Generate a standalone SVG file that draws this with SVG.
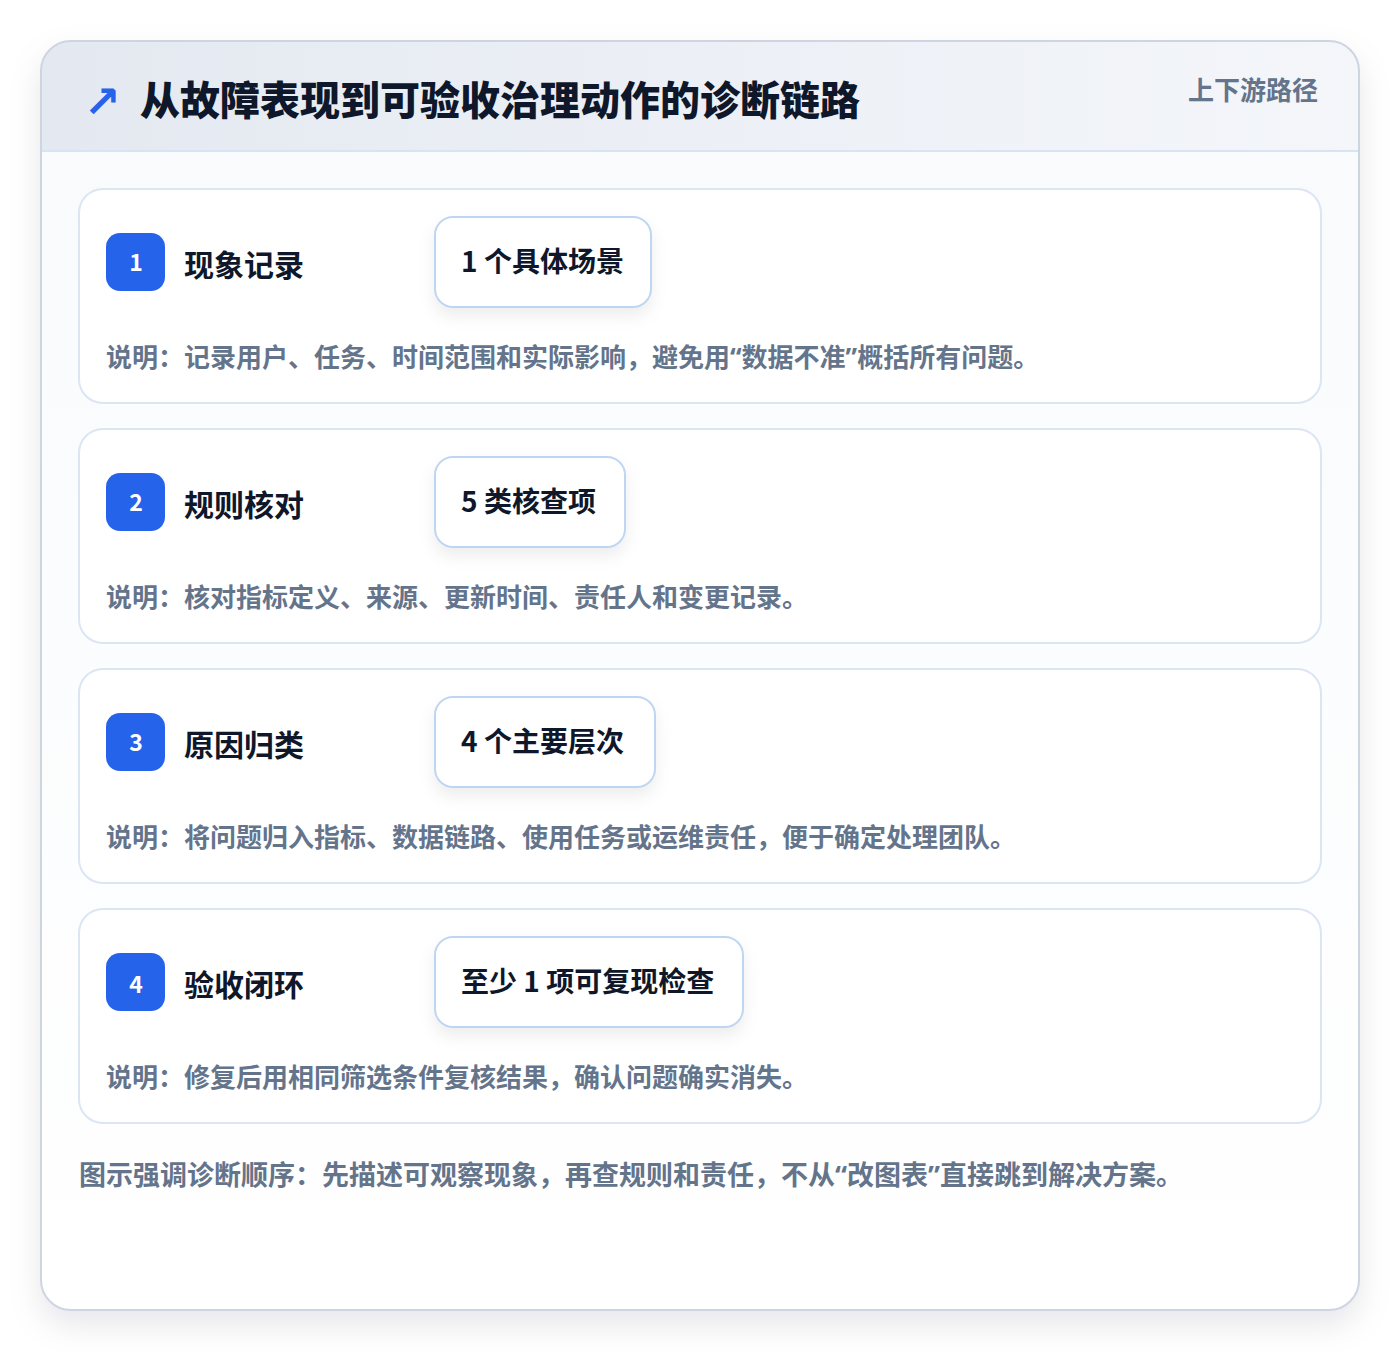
<svg xmlns="http://www.w3.org/2000/svg" width="1400" height="1352" viewBox="0 0 1400 1352">
<defs>
<linearGradient id="hdr" x1="0" y1="0" x2="1" y2="0">
<stop offset="0" stop-color="#e4e9f1"/>
<stop offset="1" stop-color="#f4f6fa"/>
</linearGradient>
<linearGradient id="body" x1="0" y1="0" x2="0" y2="1">
<stop offset="0" stop-color="#f8fafc"/>
<stop offset="1" stop-color="#ffffff"/>
</linearGradient>
<filter id="outerShadow" x="-10%" y="-10%" width="120%" height="120%">
<feDropShadow dx="0" dy="14" stdDeviation="16" flood-color="#0f172a" flood-opacity="0.10"/>
</filter>
<filter id="pillShadow" x="-20%" y="-30%" width="140%" height="180%">
<feDropShadow dx="0" dy="8" stdDeviation="8" flood-color="#0f172a" flood-opacity="0.07"/>
</filter>
<clipPath id="cardClip"><rect x="41" y="41" width="1318" height="1269" rx="30"/></clipPath>
</defs>
<style>
text{font-family:"Noto Sans CJK SC","Noto Sans",sans-serif;font-weight:700}
.q{font-family:"Noto Sans",sans-serif}
.step{fill:#ffffff;stroke:#dbe6f4;stroke-width:2}
.badge{fill:#2563eb}
.num{fill:#ffffff;font-size:23px;text-anchor:middle}
.stitle{fill:#0f172a;font-size:30px}
.pill{fill:#ffffff;stroke:#bfd6f2;stroke-width:2}
.ptext{fill:#0f172a;font-size:28px}
.desc{fill:#64748b;font-size:26px}
.foot{fill:#64748b;font-size:27px}
</style>
<rect width="1400" height="1352" fill="#ffffff"/>
<g id="card">
<rect x="41" y="41" width="1318" height="1269" rx="30" fill="#ffffff" filter="url(#outerShadow)"/>
<g clip-path="url(#cardClip)">
<rect x="41" y="41" width="1318" height="1269" fill="url(#body)"/>
<rect x="41" y="41" width="1318" height="110" fill="url(#hdr)"/>
<line x1="41" y1="151" x2="1359" y2="151" stroke="#d8e4f3" stroke-width="2"/>
</g>
<rect x="41" y="41" width="1318" height="1269" rx="30" fill="none" stroke="#cdd5e1" stroke-width="2"/>
</g>
<g id="header">
<text x="84" y="117" style="font-family:'DejaVu Sans',sans-serif;font-weight:700" font-size="44" fill="#2563eb">↗</text>
<text x="140" y="115" font-size="40" fill="#0f172a" style="font-weight:800">从故障表现到可验收治理动作的诊断链路</text>
<text x="1318" y="100" font-size="26" fill="#64748b" text-anchor="end">上下游路径</text>
</g>
<g id="step1">
<rect class="step" x="79" y="189" width="1242" height="214" rx="24"/>
<rect class="badge" x="106" y="233" width="59" height="58" rx="14"/>
<text class="num" x="136" y="271">1</text>
<text class="stitle" x="184" y="276">现象记录</text>
<rect class="pill" x="435" y="217" width="216" height="90" rx="18" filter="url(#pillShadow)"/>
<text class="ptext" x="461" y="272">1 个具体场景</text>
<text class="desc" x="106" y="367">说明：记录用户、任务、时间范围和实际影响，避免用<tspan class="q">“</tspan>数据不准<tspan class="q">”</tspan>概括所有问题。</text>
</g>
<g id="step2">
<rect class="step" x="79" y="429" width="1242" height="214" rx="24"/>
<rect class="badge" x="106" y="473" width="59" height="58" rx="14"/>
<text class="num" x="136" y="511">2</text>
<text class="stitle" x="184" y="516">规则核对</text>
<rect class="pill" x="435" y="457" width="190" height="90" rx="18" filter="url(#pillShadow)"/>
<text class="ptext" x="461" y="512">5 类核查项</text>
<text class="desc" x="106" y="607">说明：核对指标定义、来源、更新时间、责任人和变更记录。</text>
</g>
<g id="step3">
<rect class="step" x="79" y="669" width="1242" height="214" rx="24"/>
<rect class="badge" x="106" y="713" width="59" height="58" rx="14"/>
<text class="num" x="136" y="751">3</text>
<text class="stitle" x="184" y="756">原因归类</text>
<rect class="pill" x="435" y="697" width="220" height="90" rx="18" filter="url(#pillShadow)"/>
<text class="ptext" x="461" y="752">4 个主要层次</text>
<text class="desc" x="106" y="847">说明：将问题归入指标、数据链路、使用任务或运维责任，便于确定处理团队。</text>
</g>
<g id="step4">
<rect class="step" x="79" y="909" width="1242" height="214" rx="24"/>
<rect class="badge" x="106" y="953" width="59" height="58" rx="14"/>
<text class="num" x="136" y="993">4</text>
<text class="stitle" x="184" y="996">验收闭环</text>
<rect class="pill" x="435" y="937" width="308" height="90" rx="18" filter="url(#pillShadow)"/>
<text class="ptext" x="461" y="992">至少 1 项可复现检查</text>
<text class="desc" x="106" y="1087">说明：修复后用相同筛选条件复核结果，确认问题确实消失。</text>
</g>
<g id="footer">
<text class="foot" x="79" y="1185">图示强调诊断顺序：先描述可观察现象，再查规则和责任，不从<tspan class="q">“</tspan>改图表<tspan class="q">”</tspan>直接跳到解决方案。</text>
</g>
<g id="connectors"/>
</svg>
